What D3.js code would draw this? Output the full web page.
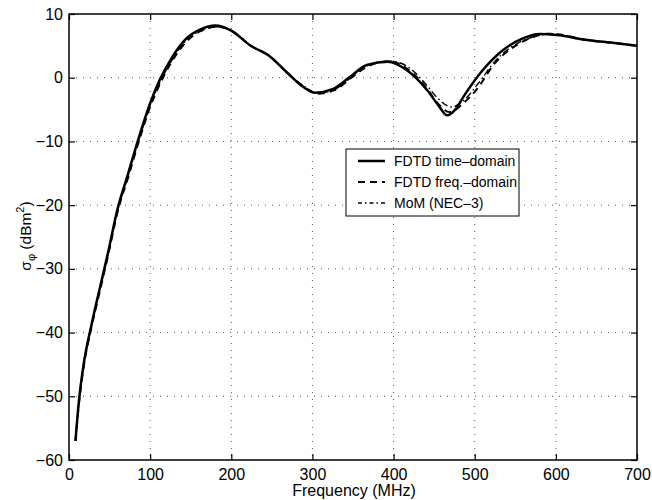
<!DOCTYPE html>
<html>
<head>
<meta charset="utf-8">
<script src="https://cdn.jsdelivr.net/npm/d3@7"></script>
<style>
    body { margin: 0; background: #fff; }
    text { font-family: "Liberation Sans", Arial, sans-serif; fill: #000; }
</style>
</head>
<body>
<div id="chart"></div>
<script>

// DATA

var xTicks = [0, 100, 200, 300, 400, 500, 600, 700];
var yTicks = [-60, -50, -40, -30, -20, -10, 0, 10];

var seriesNames = ['FDTD time\u2013domain', 'FDTD freq.\u2013domain', 'MoM (NEC\u20133)'];

var timeFreq = [8, 12, 18, 28, 38, 48, 60, 73, 87, 100, 112, 128, 145, 162, 180, 200, 223, 248, 268, 285, 303, 325, 346, 367, 393, 416, 441, 455, 466, 476, 486, 510, 535, 560, 580, 601, 634, 675, 700];
var timeVals = [-57, -51, -45, -38.6, -33, -27.5, -20.5, -15, -9, -4, -0.3, 3.4, 6.2, 7.6, 8.2, 7.4, 5.1, 3.3, 0.9, -1.1, -2.35, -1.8, 0.1, 2, 2.5, 1.2, -1.9, -4.3, -5.9, -5.0, -3, 1.2, 4.35, 6.2, 6.85, 6.7, 6.0, 5.4, 5.0];

var freqFreq = [8, 12, 18, 28, 38, 48, 60, 73, 87, 100, 112, 128, 145, 162, 182, 200, 223, 248, 268, 287, 306, 328, 348, 370, 396, 418, 441, 455, 469, 486, 502, 525, 550, 570, 590, 610, 634, 675, 700];
var freqVals = [-57, -51.5, -45.5, -39, -33.5, -28, -21, -15.6, -9.6, -4.6, -1, 2.8, 5.7, 7.3, 8.0, 7.4, 5.1, 3.3, 0.9, -1.2, -2.5, -1.9, 0, 1.9, 2.6, 1.3, -1.7, -4.1, -5.4, -4.0, -1.9, 2.3, 5.0, 6.3, 6.9, 6.7, 6.0, 5.4, 5.0];

var momFreq = [8, 12, 18, 28, 38, 48, 60, 73, 87, 100, 112, 128, 145, 162, 182, 200, 223, 248, 268, 287, 306, 328, 348, 370, 396, 420, 441, 455, 472, 486, 505, 525, 550, 575, 595, 612, 634, 675, 700];
var momVals = [-57, -51.3, -45.3, -38.8, -33.3, -27.8, -20.8, -15.4, -9.4, -4.4, -0.8, 3.0, 5.9, 7.4, 8.0, 7.4, 5.1, 3.3, 0.9, -1.1, -2.4, -1.8, 0.1, 2.0, 2.6, 1.5, -1.2, -3.3, -4.6, -3.6, -0.8, 2.6, 5.2, 6.5, 6.9, 6.6, 6.0, 5.4, 5.0];


// LAYOUT

var width = 652;
var height = 500;
var margin = { left: 69, right: 15, top: 14, bottom: 40 };
var plotW = width - margin.left - margin.right;
var plotH = height - margin.top - margin.bottom;

var svg = d3.select( '#chart' ).append( 'svg' )
    .attr( 'width', width )
    .attr( 'height', height );

var g = svg.append( 'g' )
    .attr( 'transform', 'translate(' + margin.left + ',' + margin.top + ')' );

var xScale = d3.scaleLinear().domain( [0, 700] ).range( [0, plotW] );
var yScale = d3.scaleLinear().domain( [-60, 10] ).range( [plotH, 0] );

// Grid (dotted, matlab style)
g.selectAll( '.gx' ).data( xTicks.slice( 1, -1 ) ).enter().append( 'line' )
    .attr( 'x1', function( d ) { return xScale( d ); } )
    .attr( 'x2', function( d ) { return xScale( d ); } )
    .attr( 'y1', 0 ).attr( 'y2', plotH )
    .attr( 'stroke', '#555' ).attr( 'stroke-width', 1 )
    .attr( 'stroke-dasharray', '1,6' );

g.selectAll( '.gy' ).data( yTicks.slice( 1, -1 ) ).enter().append( 'line' )
    .attr( 'y1', function( d ) { return yScale( d ); } )
    .attr( 'y2', function( d ) { return yScale( d ); } )
    .attr( 'x1', 0 ).attr( 'x2', plotW )
    .attr( 'stroke', '#555' ).attr( 'stroke-width', 1 )
    .attr( 'stroke-dasharray', '1,6' );

// Axes, ticks inward on all four sides
function styleAxis( sel ) {
    sel.select( '.domain' ).remove();
    sel.selectAll( 'line' ).attr( 'stroke', '#000' ).attr( 'stroke-width', 1.2 );
    sel.selectAll( 'text' ).style( 'font-size', '16px' )
        .style( 'font-family', '"Liberation Sans", Arial, sans-serif' );
}

g.append( 'g' )
    .attr( 'transform', 'translate(0,' + plotH + ')' )
    .call( d3.axisBottom( xScale ).tickValues( xTicks ).tickSize( -6 ).tickPadding( 9 ) )
    .call( styleAxis );

g.append( 'g' )
    .call( d3.axisTop( xScale ).tickValues( xTicks ).tickSize( -6 ).tickFormat( '' ) )
    .call( styleAxis );

g.append( 'g' )
    .call( d3.axisLeft( yScale ).tickValues( yTicks ).tickSize( -6 ).tickPadding( 6 )
        .tickFormat( function( d ) { return d < 0 ? '\u2212' + Math.abs( d ) : d; } ) )
    .call( styleAxis );

g.append( 'g' )
    .attr( 'transform', 'translate(' + plotW + ',0)' )
    .call( d3.axisRight( yScale ).tickValues( yTicks ).tickSize( -6 ).tickFormat( '' ) )
    .call( styleAxis );

// Frame
g.append( 'rect' )
    .attr( 'width', plotW ).attr( 'height', plotH )
    .attr( 'fill', 'none' ).attr( 'stroke', '#000' ).attr( 'stroke-width', 1.5 );

// Curves
var line = d3.line()
    .x( function( d ) { return xScale( d[0] ); } )
    .y( function( d ) { return yScale( d[1] ); } )
    .curve( d3.curveMonotoneX );

function zip( a, b ) {
    return a.map( function( v, i ) { return [v, b[i]]; } );
}

var series = [
    { data: zip( momFreq, momVals ), width: 1.4, dash: '7,3,1.5,3' },
    { data: zip( freqFreq, freqVals ), width: 2, dash: '7,5' },
    { data: zip( timeFreq, timeVals ), width: 2.5, dash: null }
];

series.forEach( function( s ) {
    g.append( 'path' )
        .datum( s.data )
        .attr( 'd', line )
        .attr( 'fill', 'none' )
        .attr( 'stroke', '#000' )
        .attr( 'stroke-width', s.width )
        .attr( 'stroke-dasharray', s.dash );
} );

// Legend
var legend = svg.append( 'g' ).attr( 'transform', 'translate(346,149)' );
legend.append( 'rect' )
    .attr( 'width', 173 ).attr( 'height', 67 )
    .attr( 'fill', '#fff' ).attr( 'stroke', '#000' ).attr( 'stroke-width', 1 );

var legendStyles = [
    { width: 2.5, dash: null },
    { width: 2, dash: '7,5' },
    { width: 1.4, dash: '4,3,1.5,3' }
];

seriesNames.forEach( function( name, i ) {
    var y = 12 + i * 21;
    legend.append( 'line' )
        .attr( 'x1', 12 ).attr( 'x2', 39 )
        .attr( 'y1', y ).attr( 'y2', y )
        .attr( 'stroke', '#000' )
        .attr( 'stroke-width', legendStyles[i].width )
        .attr( 'stroke-dasharray', legendStyles[i].dash );
    legend.append( 'text' )
        .attr( 'x', 48 ).attr( 'y', y + 5 )
        .style( 'font-size', '14px' )
        .text( name );
} );

// Axis labels
svg.append( 'text' )
    .attr( 'x', 354 ).attr( 'y', 496 )
    .attr( 'text-anchor', 'middle' )
    .style( 'font-size', '16px' )
    .text( 'Frequency (MHz)' );

var yLab = svg.append( 'text' )
    .attr( 'transform', 'translate(31,236) rotate(-90)' )
    .attr( 'text-anchor', 'middle' )
    .style( 'font-size', '15.5px' );
yLab.append( 'tspan' ).text( '\u03c3' );
yLab.append( 'tspan' ).attr( 'dy', 4 ).style( 'font-size', '11px' ).text( '\u03c6' );
yLab.append( 'tspan' ).attr( 'dy', -4 ).text( ' (dBm' );
yLab.append( 'tspan' ).attr( 'dy', -7 ).style( 'font-size', '11px' ).text( '2' );
yLab.append( 'tspan' ).attr( 'dy', 7 ).text( ')' );

</script>
</body>
</html>
